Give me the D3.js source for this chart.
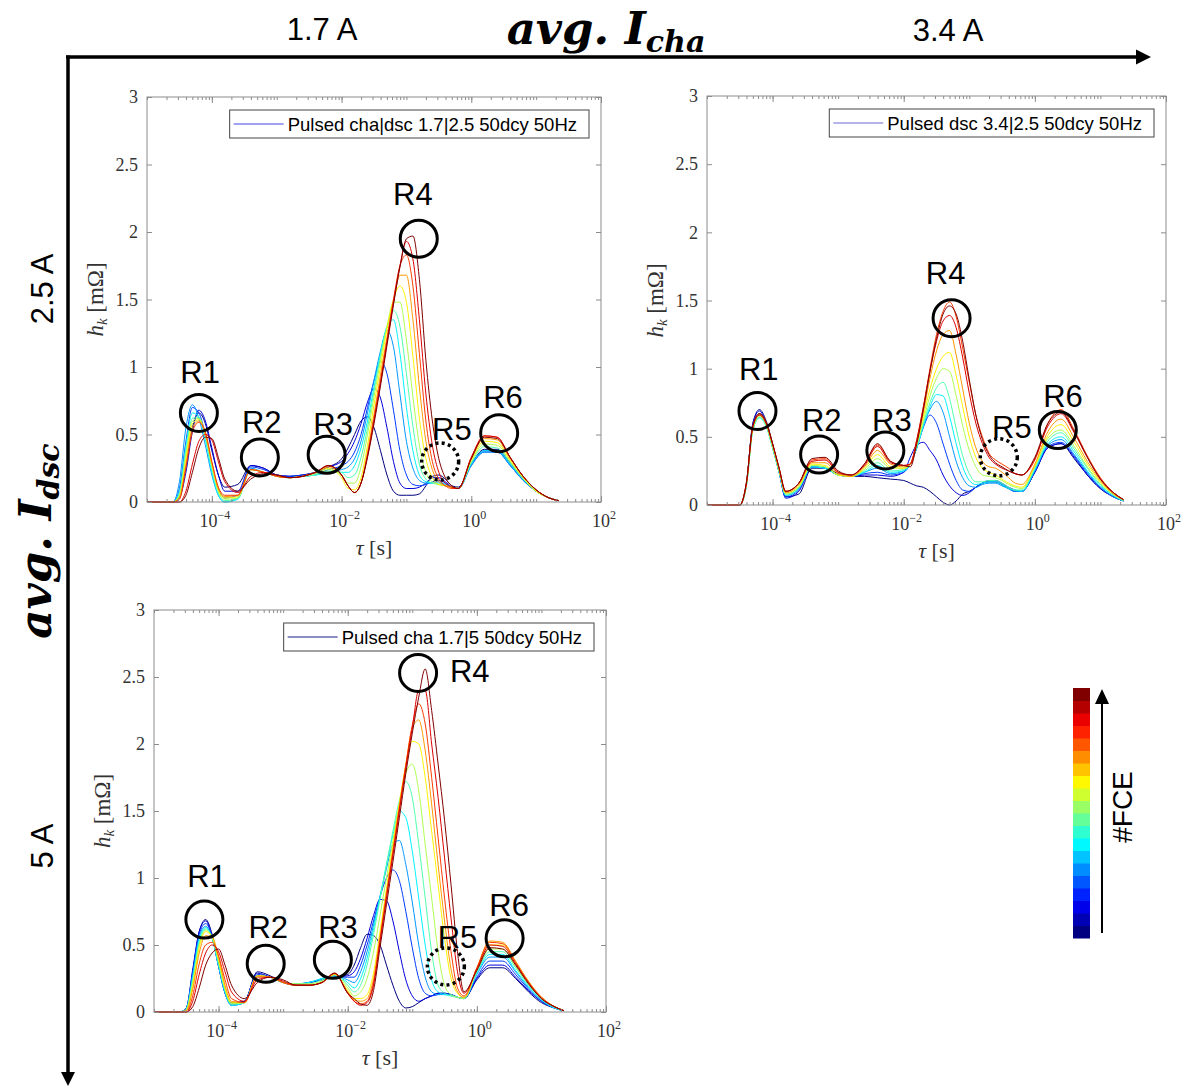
<!DOCTYPE html>
<html>
<head>
<meta charset="utf-8">
<script src="https://cdn.jsdelivr.net/npm/d3@7"></script>
<style>
  body { margin: 0; background: #fff; }
</style>
</head>
<body>
<div id="chart"></div>
<script>
// log10(tau) sample positions shared by every curve
const logTau = [-5,-4.6,-4.5,-4.4,-4.3,-4.2,-4.1,-4,-3.9,-3.8,-3.6,-3.4,-3.2,-3,-2.8,-2.6,-2.4,-2.2,-2,
  -1.9,-1.8,-1.7,-1.6,-1.5,-1.4,-1.3,-1.2,-1.1,-1,-0.9,-0.8,-0.7,-0.6,-0.5,-0.4,-0.3,-0.2,
  0,0.2,0.4,0.6,0.8,1,1.2,1.35];

// h_k [mOhm], first cycle (blue) to last cycle (dark red)
const p1Curves = [
  [0,0,0.04,0.25,0.55,0.66,0.58,0.38,0.2,0.11,0.13, 0.27,0.25,0.2,0.19,0.2,0.22,0.26,0.32, 0.4,0.5,0.6,0.63,0.55,0.38,0.2,0.08,0.05,0.05,0.05,0.06,0.12,0.19,0.2,0.17,0.12,0.11, 0.28,0.39,0.39,0.29,0.17,0.08,0.03,0.01],
  [0,0,0.03,0.22,0.52,0.68,0.6,0.4,0.2,0.08,0.08, 0.27,0.25,0.2,0.19,0.2,0.22,0.26,0.3, 0.36,0.45,0.58,0.74,0.84,0.77,0.55,0.3,0.14,0.1,0.1,0.11,0.14,0.18,0.18,0.15,0.11,0.1, 0.28,0.38,0.38,0.28,0.17,0.08,0.03,0.01],
  [0,0,0.1,0.45,0.7,0.66,0.5,0.28,0.1,0.03,0.05, 0.26,0.24,0.2,0.19,0.2,0.21,0.24,0.27, 0.3,0.37,0.5,0.7,0.9,1.04,0.95,0.68,0.38,0.2,0.13,0.12,0.13,0.15,0.16,0.14,0.11,0.1, 0.27,0.37,0.37,0.27,0.16,0.08,0.03,0.01],
  [0,0,0.15,0.55,0.72,0.62,0.42,0.2,0.05,0,0.03, 0.25,0.22,0.19,0.18,0.19,0.2,0.22,0.24, 0.26,0.32,0.45,0.66,0.9,1.12,1.27,1.15,0.8,0.45,0.25,0.16,0.14,0.14,0.15,0.13,0.11,0.1, 0.27,0.37,0.37,0.27,0.16,0.08,0.03,0.01],
  [0,0,0.08,0.42,0.66,0.63,0.46,0.22,0.05,0,0.02, 0.24,0.22,0.19,0.18,0.19,0.2,0.22,0.22, 0.22,0.27,0.4,0.6,0.85,1.1,1.3,1.35,1.1,0.7,0.38,0.2,0.15,0.14,0.14,0.13,0.11,0.1, 0.28,0.38,0.38,0.28,0.17,0.08,0.03,0.01],
  [0,0,0.06,0.38,0.62,0.63,0.48,0.25,0.07,0.01,0.03, 0.24,0.22,0.19,0.18,0.19,0.2,0.23,0.22, 0.18,0.2,0.33,0.55,0.82,1.08,1.3,1.42,1.3,0.95,0.56,0.28,0.17,0.14,0.13,0.12,0.11,0.1, 0.29,0.41,0.4,0.29,0.17,0.08,0.03,0.01],
  [0,0,0.05,0.35,0.6,0.62,0.5,0.27,0.08,0.02,0.03, 0.24,0.22,0.19,0.18,0.19,0.21,0.24,0.2, 0.14,0.14,0.26,0.5,0.78,1.05,1.3,1.48,1.48,1.2,0.78,0.42,0.22,0.15,0.13,0.12,0.11,0.1, 0.3,0.43,0.42,0.3,0.18,0.08,0.03,0.01],
  [0,0,0.04,0.32,0.58,0.61,0.5,0.28,0.09,0.03,0.04, 0.24,0.22,0.19,0.18,0.19,0.22,0.25,0.18, 0.1,0.09,0.18,0.42,0.72,1,1.28,1.5,1.6,1.48,1.08,0.62,0.32,0.18,0.13,0.12,0.11,0.1, 0.31,0.45,0.44,0.31,0.18,0.08,0.03,0.01],
  [0,0,0.03,0.28,0.55,0.6,0.5,0.29,0.1,0.04,0.05, 0.24,0.22,0.19,0.18,0.19,0.22,0.26,0.2, 0.12,0.07,0.14,0.37,0.65,0.94,1.22,1.48,1.68,1.68,1.35,0.85,0.45,0.24,0.15,0.12,0.11,0.1, 0.32,0.47,0.46,0.32,0.19,0.09,0.03,0.01],
  [0,0,0.02,0.25,0.52,0.59,0.52,0.3,0.11,0.05,0.05, 0.24,0.22,0.19,0.18,0.19,0.22,0.27,0.2, 0.12,0.07,0.14,0.35,0.62,0.9,1.2,1.5,1.75,1.83,1.6,1.1,0.6,0.3,0.17,0.12,0.1,0.1, 0.33,0.49,0.48,0.33,0.19,0.09,0.03,0.01],
  [0,0,0,0.08,0.28,0.45,0.5,0.46,0.3,0.15,0.07, 0.19,0.22,0.2,0.18,0.19,0.22,0.27,0.2, 0.12,0.07,0.14,0.34,0.6,0.88,1.18,1.48,1.75,1.93,1.8,1.35,0.8,0.42,0.22,0.14,0.11,0.1, 0.33,0.49,0.48,0.33,0.19,0.09,0.03,0.01],
  [0,0,0,0.05,0.22,0.4,0.48,0.47,0.33,0.17,0.08, 0.17,0.21,0.2,0.18,0.19,0.22,0.27,0.2, 0.12,0.07,0.14,0.33,0.58,0.86,1.16,1.46,1.74,1.95,1.97,1.65,1.05,0.6,0.32,0.18,0.12,0.1, 0.32,0.48,0.47,0.33,0.19,0.09,0.03,0.01]
];

const p2Curves = [
  [0,0,0,0.15,0.6,0.7,0.62,0.45,0.25,0.06,0.08, 0.27,0.27,0.23,0.21,0.21,0.2,0.19,0.18, 0.16,0.14,0.13,0.1,0.06,0.02,0,0.03,0.08,0.1,0.13,0.16,0.17,0.17,0.15,0.12,0.1,0.1, 0.24,0.42,0.45,0.34,0.22,0.12,0.06,0.03],
  [0,0,0,0.15,0.6,0.69,0.6,0.43,0.24,0.05,0.1, 0.28,0.27,0.22,0.21,0.22,0.22,0.21,0.24, 0.35,0.44,0.46,0.4,0.33,0.22,0.14,0.09,0.07,0.09,0.13,0.16,0.18,0.18,0.16,0.13,0.11,0.1, 0.24,0.42,0.45,0.35,0.22,0.12,0.06,0.03],
  [0,0,0,0.15,0.58,0.67,0.6,0.43,0.24,0.06,0.11, 0.28,0.27,0.22,0.21,0.23,0.24,0.22,0.24, 0.3,0.42,0.57,0.66,0.6,0.45,0.3,0.18,0.11,0.1,0.13,0.16,0.17,0.17,0.15,0.12,0.1,0.1, 0.25,0.43,0.46,0.36,0.23,0.13,0.06,0.03],
  [0,0,0,0.14,0.57,0.66,0.59,0.42,0.24,0.07,0.12, 0.28,0.27,0.22,0.21,0.24,0.27,0.23,0.25, 0.3,0.42,0.58,0.7,0.76,0.68,0.5,0.32,0.2,0.14,0.13,0.15,0.16,0.16,0.14,0.12,0.1,0.1, 0.25,0.44,0.48,0.37,0.24,0.13,0.06,0.03],
  [0,0,0,0.14,0.55,0.64,0.58,0.42,0.24,0.07,0.12, 0.28,0.27,0.22,0.21,0.24,0.29,0.24,0.25, 0.3,0.42,0.58,0.72,0.81,0.8,0.65,0.45,0.28,0.18,0.15,0.16,0.17,0.17,0.15,0.12,0.11,0.1, 0.26,0.45,0.5,0.39,0.25,0.14,0.07,0.03],
  [0,0,0,0.14,0.55,0.64,0.58,0.42,0.24,0.08,0.13, 0.29,0.28,0.22,0.21,0.25,0.31,0.25,0.26, 0.3,0.43,0.6,0.75,0.86,0.9,0.78,0.56,0.36,0.23,0.17,0.17,0.18,0.18,0.16,0.13,0.11,0.11, 0.27,0.47,0.53,0.41,0.27,0.15,0.07,0.03],
  [0,0,0,0.15,0.56,0.65,0.59,0.43,0.25,0.08,0.13, 0.29,0.28,0.22,0.21,0.26,0.34,0.27,0.27, 0.3,0.44,0.62,0.8,0.93,1,0.98,0.8,0.58,0.4,0.28,0.22,0.21,0.2,0.18,0.15,0.13,0.12, 0.28,0.49,0.55,0.43,0.28,0.16,0.08,0.04],
  [0,0,0,0.15,0.57,0.66,0.6,0.44,0.26,0.09,0.14, 0.3,0.29,0.22,0.21,0.27,0.37,0.28,0.27, 0.3,0.45,0.65,0.85,1,1.09,1.12,0.95,0.72,0.5,0.35,0.27,0.24,0.22,0.19,0.16,0.14,0.13, 0.29,0.51,0.59,0.46,0.3,0.17,0.08,0.04],
  [0,0,0,0.15,0.57,0.66,0.6,0.44,0.26,0.09,0.15, 0.31,0.31,0.23,0.21,0.28,0.4,0.3,0.28, 0.3,0.46,0.68,0.93,1.13,1.25,1.28,1.1,0.85,0.6,0.42,0.32,0.28,0.27,0.24,0.2,0.16,0.15, 0.3,0.54,0.63,0.49,0.32,0.18,0.08,0.04],
  [0,0,0,0.16,0.58,0.67,0.61,0.45,0.27,0.1,0.16, 0.33,0.34,0.24,0.22,0.3,0.44,0.32,0.29, 0.3,0.48,0.72,1,1.25,1.42,1.49,1.38,1.15,0.9,0.66,0.5,0.38,0.33,0.3,0.27,0.23,0.22, 0.33,0.6,0.7,0.55,0.36,0.2,0.09,0.04],
  [0,0,0,0.16,0.58,0.66,0.6,0.45,0.27,0.1,0.16, 0.32,0.33,0.24,0.22,0.29,0.43,0.31,0.29, 0.3,0.48,0.72,0.98,1.2,1.35,1.39,1.3,1.08,0.82,0.6,0.45,0.35,0.3,0.27,0.25,0.23,0.22, 0.34,0.58,0.67,0.53,0.35,0.19,0.09,0.04],
  [0,0,0,0.16,0.58,0.67,0.61,0.45,0.27,0.1,0.16, 0.34,0.35,0.25,0.22,0.3,0.45,0.32,0.29, 0.28,0.45,0.7,0.98,1.22,1.4,1.46,1.4,1.2,0.92,0.66,0.48,0.37,0.31,0.28,0.25,0.23,0.22, 0.35,0.6,0.68,0.54,0.35,0.19,0.09,0.04]
];

const p3Curves = [
  [0,0,0.02,0.3,0.6,0.69,0.58,0.36,0.15,0.07,0.08, 0.3,0.27,0.22,0.2,0.22,0.24,0.26,0.28, 0.35,0.48,0.58,0.57,0.5,0.35,0.2,0.08,0.03,0.04,0.07,0.1,0.12,0.14,0.14,0.13,0.11,0.1, 0.24,0.33,0.33,0.25,0.15,0.07,0.03,0.01],
  [0,0,0.03,0.32,0.6,0.68,0.56,0.34,0.14,0.06,0.08, 0.29,0.26,0.22,0.2,0.22,0.24,0.26,0.27, 0.3,0.4,0.55,0.72,0.84,0.83,0.68,0.45,0.24,0.12,0.08,0.1,0.12,0.14,0.14,0.13,0.11,0.1, 0.25,0.35,0.35,0.26,0.16,0.08,0.03,0.01],
  [0,0,0.03,0.3,0.58,0.66,0.56,0.34,0.14,0.05,0.07, 0.28,0.26,0.22,0.21,0.22,0.24,0.26,0.26, 0.26,0.35,0.5,0.68,0.86,1,1.06,0.98,0.75,0.48,0.25,0.14,0.12,0.13,0.14,0.13,0.11,0.1, 0.26,0.38,0.38,0.28,0.17,0.08,0.03,0.01],
  [0,0,0.03,0.28,0.56,0.64,0.55,0.34,0.14,0.05,0.07, 0.27,0.26,0.22,0.21,0.22,0.25,0.27,0.24, 0.22,0.3,0.45,0.65,0.86,1.07,1.25,1.28,1.1,0.82,0.5,0.26,0.15,0.13,0.13,0.13,0.11,0.1, 0.28,0.41,0.41,0.3,0.18,0.09,0.03,0.01],
  [0,0,0.02,0.26,0.54,0.63,0.55,0.35,0.15,0.05,0.07, 0.27,0.26,0.22,0.21,0.22,0.25,0.27,0.22, 0.18,0.25,0.4,0.62,0.86,1.1,1.32,1.5,1.45,1.2,0.85,0.5,0.24,0.15,0.13,0.12,0.11,0.1, 0.29,0.43,0.43,0.31,0.19,0.09,0.03,0.01],
  [0,0,0.02,0.24,0.52,0.62,0.55,0.36,0.16,0.06,0.07, 0.27,0.26,0.22,0.21,0.21,0.24,0.28,0.2, 0.15,0.2,0.35,0.58,0.84,1.1,1.35,1.58,1.72,1.6,1.25,0.85,0.45,0.2,0.14,0.12,0.11,0.1, 0.3,0.45,0.45,0.33,0.2,0.1,0.04,0.01],
  [0,0,0.02,0.22,0.5,0.61,0.56,0.38,0.17,0.06,0.07, 0.27,0.26,0.22,0.21,0.21,0.23,0.28,0.18, 0.12,0.15,0.25,0.45,0.72,1,1.28,1.55,1.78,1.85,1.65,1.25,0.85,0.45,0.2,0.13,0.11,0.1, 0.31,0.47,0.47,0.34,0.21,0.1,0.04,0.01],
  [0,0,0.01,0.2,0.48,0.6,0.56,0.39,0.18,0.07,0.07, 0.27,0.26,0.22,0.2,0.2,0.22,0.28,0.16, 0.1,0.1,0.13,0.29,0.6,0.92,1.24,1.56,1.84,2.02,2,1.75,1.35,0.95,0.55,0.25,0.14,0.11, 0.32,0.5,0.5,0.36,0.22,0.11,0.04,0.01],
  [0,0,0.01,0.17,0.44,0.57,0.56,0.41,0.2,0.08,0.07, 0.27,0.26,0.22,0.2,0.2,0.22,0.28,0.15, 0.09,0.08,0.1,0.25,0.56,0.89,1.21,1.54,1.85,2.12,2.18,1.95,1.55,1.1,0.68,0.32,0.15,0.11, 0.33,0.53,0.52,0.38,0.23,0.11,0.04,0.01],
  [0,0,0,0.12,0.36,0.5,0.52,0.42,0.24,0.1,0.07, 0.26,0.26,0.22,0.2,0.2,0.22,0.29,0.14, 0.08,0.06,0.08,0.22,0.54,0.87,1.19,1.52,1.84,2.14,2.3,2.15,1.75,1.3,0.85,0.45,0.18,0.12, 0.33,0.52,0.51,0.37,0.22,0.11,0.04,0.01],
  [0,0,0,0.08,0.28,0.44,0.5,0.45,0.3,0.15,0.08, 0.24,0.26,0.23,0.2,0.2,0.22,0.29,0.14, 0.08,0.05,0.07,0.2,0.52,0.85,1.17,1.5,1.82,2.12,2.4,2.4,2,1.6,1.15,0.7,0.3,0.14, 0.32,0.5,0.49,0.36,0.22,0.1,0.04,0.01],
  [0,0,0,0.04,0.18,0.35,0.44,0.47,0.35,0.2,0.1, 0.22,0.26,0.24,0.2,0.2,0.22,0.29,0.14, 0.1,0.06,0.05,0.16,0.48,0.8,1.12,1.45,1.78,2.08,2.35,2.56,2.25,1.85,1.43,0.95,0.45,0.15, 0.31,0.48,0.47,0.35,0.21,0.1,0.04,0.01]
];

const p1Legend = "Pulsed cha|dsc 1.7|2.5 50dcy 50Hz";
const p2Legend = "Pulsed dsc 3.4|2.5 50dcy 50Hz";
const p3Legend = "Pulsed cha 1.7|5 50dcy 50Hz";

// region annotations: circle centre (log tau, h) and label baseline (log tau, h)
const p1Regions = [
  { name: "R1", ct: -4.2, ch: 0.66, lt: -4.18, lh: 0.88 },
  { name: "R2", ct: -3.26, ch: 0.33, lt: -3.23, lh: 0.51 },
  { name: "R3", ct: -2.23, ch: 0.35, lt: -2.13, lh: 0.5 },
  { name: "R4", ct: -0.81, ch: 1.95, lt: -0.9, lh: 2.2 },
  { name: "R5", ct: -0.48, ch: 0.3, lt: -0.3, lh: 0.46, dotted: true },
  { name: "R6", ct: 0.43, ch: 0.51, lt: 0.49, lh: 0.7 }
];
const p2Regions = [
  { name: "R1", ct: -4.23, ch: 0.69, lt: -4.21, lh: 0.92 },
  { name: "R2", ct: -3.29, ch: 0.37, lt: -3.25, lh: 0.54 },
  { name: "R3", ct: -2.28, ch: 0.4, lt: -2.18, lh: 0.54 },
  { name: "R4", ct: -1.27, ch: 1.37, lt: -1.36, lh: 1.62 },
  { name: "R5", ct: -0.55, ch: 0.35, lt: -0.35, lh: 0.49, dotted: true },
  { name: "R6", ct: 0.35, ch: 0.55, lt: 0.43, lh: 0.72 }
];
const p3Regions = [
  { name: "R1", ct: -4.22, ch: 0.69, lt: -4.18, lh: 0.93 },
  { name: "R2", ct: -3.27, ch: 0.36, lt: -3.23, lh: 0.55 },
  { name: "R3", ct: -2.23, ch: 0.39, lt: -2.15, lh: 0.55 },
  { name: "R4", ct: -0.91, ch: 2.53, lt: -0.11, lh: 2.46 },
  { name: "R5", ct: -0.48, ch: 0.34, lt: -0.3, lh: 0.48, dotted: true },
  { name: "R6", ct: 0.43, ch: 0.55, lt: 0.5, lh: 0.72 }
];

const yTicks = [0, 0.5, 1, 1.5, 2, 2.5, 3];
const xLabelExp = [-4, -2, 0, 2];
const colorSteps = 20;

const W = 1185, H = 1088;
const sans = "Arial, 'Liberation Sans', sans-serif";
const serif = "'Liberation Serif', 'DejaVu Serif', serif";

function jet(t) {
  const c = v => Math.max(0, Math.min(1, v));
  return d3.rgb(255 * c(1.5 - Math.abs(4 * t - 3)),
                255 * c(1.5 - Math.abs(4 * t - 2)),
                255 * c(1.5 - Math.abs(4 * t - 1))).toString();
}

const svg = d3.select("#chart").append("svg")
  .attr("width", W).attr("height", H)
  .style("font-family", sans);

function drawPanel(id, curves, legendText, legendColor, regions, box) {
  const { left, right, top, bottom } = box;
  const x = d3.scaleLog().domain([1e-5, 1e2]).range([left, right]);
  const y = d3.scaleLinear().domain([0, 3]).range([bottom, top]);
  const g = svg.append("g");

  g.append("clipPath").attr("id", id)
    .append("rect").attr("x", left).attr("y", top - 1)
    .attr("width", right - left).attr("height", bottom - top + 2);

  const line = d3.line()
    .x((d, i) => x(Math.pow(10, logTau[i])))
    .y(d => y(d))
    .curve(d3.curveMonotoneX);

  g.append("g").attr("clip-path", `url(#${id})`)
    .selectAll("path")
    .data(curves)
    .join("path")
    .attr("d", line)
    .attr("fill", "none")
    .attr("stroke", (d, i) => jet(i / (curves.length - 1)))
    .attr("stroke-width", 1);

  // axes box
  g.append("rect")
    .attr("x", left).attr("y", top)
    .attr("width", right - left).attr("height", bottom - top)
    .attr("fill", "none").attr("stroke", "#8c8c8c").attr("stroke-width", 1);

  // y ticks
  const yl = g.append("g").attr("transform", `translate(${left},0)`)
    .call(d3.axisLeft(y).tickValues(yTicks).tickSize(-5).tickPadding(9).tickFormat(d => d));
  yl.select(".domain").remove();
  yl.selectAll(".tick line").attr("stroke", "#8c8c8c");
  yl.selectAll(".tick text").style("font-family", serif).style("font-size", "18px").attr("fill", "#333");
  const yr = g.append("g").attr("transform", `translate(${right},0)`)
    .call(d3.axisRight(y).tickValues(yTicks).tickSize(-5).tickFormat(""));
  yr.select(".domain").remove();
  yr.selectAll(".tick line").attr("stroke", "#8c8c8c");

  // x ticks (log, minor + major) on bottom and top
  const minor = [];
  for (let e = -5; e < 2; e++) for (let k = 1; k < 10; k++) minor.push(k * Math.pow(10, e));
  const major = xLabelExp.map(e => Math.pow(10, e));
  [[d3.axisBottom, bottom], [d3.axisTop, top]].forEach(([ax, pos]) => {
    const mi = g.append("g").attr("transform", `translate(0,${pos})`)
      .call(ax(x).tickValues(minor).tickSize(-3).tickFormat(""));
    mi.select(".domain").remove();
    mi.selectAll(".tick line").attr("stroke", "#8c8c8c");
    const ma = g.append("g").attr("transform", `translate(0,${pos})`)
      .call(ax(x).tickValues(major).tickSize(-6).tickFormat(""));
    ma.select(".domain").remove();
    ma.selectAll(".tick line").attr("stroke", "#8c8c8c");
  });

  const xt = g.append("g").selectAll("text").data(xLabelExp).join("text")
    .attr("x", e => x(Math.pow(10, e)) + 3)
    .attr("y", bottom + 25)
    .attr("text-anchor", "middle")
    .style("font-family", serif).style("font-size", "18px").attr("fill", "#333");
  xt.append("tspan").text("10");
  xt.append("tspan").attr("dy", -8).style("font-size", "12px")
    .text(e => e < 0 ? "\u2212" + Math.abs(e) : String(e));

  // axis labels
  const xlab = g.append("text")
    .attr("x", (left + right) / 2).attr("y", bottom + 53)
    .attr("text-anchor", "middle")
    .style("font-family", serif).style("font-size", "22px").attr("fill", "#333");
  xlab.append("tspan").style("font-style", "italic").text("\u03c4");
  xlab.append("tspan").text(" [s]");

  const ylab = g.append("text")
    .attr("transform", `translate(${left - 44},${(top + bottom) / 2}) rotate(-90)`)
    .attr("text-anchor", "middle")
    .style("font-family", serif).style("font-size", "23px").attr("fill", "#333");
  ylab.append("tspan").style("font-style", "italic").text("h");
  ylab.append("tspan").style("font-style", "italic").style("font-size", "15px").attr("dy", 4).text("k");
  ylab.append("tspan").attr("dy", -4).text(" [m\u03a9]");

  // legend
  const lg = g.append("g");
  const lt = lg.append("text")
    .attr("y", 20.5)
    .style("font-size", "18.5px").attr("fill", "#000")
    .text(legendText);
  const tw = lt.node().getComputedTextLength();
  const lw = 58 + tw + 12;
  lg.attr("transform", `translate(${right - 12 - lw},${top + 13})`);
  lg.insert("rect", "text").attr("width", lw).attr("height", 28)
    .attr("fill", "#fff").attr("stroke", "#444").attr("stroke-width", 1);
  lg.append("line").attr("x1", 4).attr("x2", 54).attr("y1", 14).attr("y2", 14)
    .attr("stroke", legendColor).attr("stroke-width", 1.2);
  lt.attr("x", 58);

  // region annotations
  const ann = g.append("g");
  ann.selectAll("circle").data(regions).join("circle")
    .attr("cx", d => x(Math.pow(10, d.ct)))
    .attr("cy", d => y(d.ch))
    .attr("r", 18.5)
    .attr("fill", "none").attr("stroke", "#000")
    .attr("stroke-width", d => d.dotted ? 3.5 : 3)
    .attr("stroke-dasharray", d => d.dotted ? "3 3.3" : null);
  ann.selectAll("text").data(regions).join("text")
    .attr("x", d => x(Math.pow(10, d.lt)))
    .attr("y", d => y(d.lh))
    .attr("text-anchor", "middle")
    .style("font-size", "31px").attr("fill", "#000")
    .text(d => d.name);
}

drawPanel("c1", p1Curves, p1Legend, "#4646e6", p1Regions, { left: 147, right: 601, top: 97, bottom: 502 });
drawPanel("c2", p2Curves, p2Legend, "#6a6ad8", p2Regions, { left: 707, right: 1166, top: 96, bottom: 505 });
drawPanel("c3", p3Curves, p3Legend, "#1c1c8c", p3Regions, { left: 154, right: 606, top: 610, bottom: 1012 });

// frame arrows
const arrows = svg.append("g");
arrows.append("line").attr("x1", 66).attr("x2", 1138).attr("y1", 57).attr("y2", 57)
  .attr("stroke", "#000").attr("stroke-width", 3.5);
arrows.append("path").attr("d", "M1136,49.5 L1151,57 L1136,64.5 Z").attr("fill", "#000");
arrows.append("line").attr("x1", 68).attr("x2", 68).attr("y1", 55.5).attr("y2", 1074)
  .attr("stroke", "#000").attr("stroke-width", 3.5);
arrows.append("path").attr("d", "M61,1072 L68,1086 L75,1072 Z").attr("fill", "#000");

// axis titles
svg.append("text").attr("x", 322).attr("y", 40).attr("text-anchor", "middle")
  .style("font-size", "31px").text("1.7 A");
svg.append("text").attr("x", 948).attr("y", 41).attr("text-anchor", "middle")
  .style("font-size", "31px").text("3.4 A");
const tTop = svg.append("text").attr("x", 606).attr("y", 44).attr("text-anchor", "middle")
  .style("font-family", "'DejaVu Serif', serif").style("font-weight", "bold").style("font-style", "italic")
  .style("font-size", "45px");
tTop.append("tspan").text("avg. I");
tTop.append("tspan").attr("dy", 8).style("font-size", "30px").text("cha");

const tLeft = svg.append("text").attr("transform", "translate(51,541) rotate(-90)").attr("text-anchor", "middle")
  .style("font-family", "'DejaVu Serif', serif").style("font-weight", "bold").style("font-style", "italic")
  .style("font-size", "45px");
tLeft.append("tspan").text("avg. I");
tLeft.append("tspan").attr("dy", 8).style("font-size", "30px").text("dsc");

svg.append("text").attr("transform", "translate(53,289) rotate(-90)").attr("text-anchor", "middle")
  .style("font-size", "31px").text("2.5 A");
svg.append("text").attr("transform", "translate(53,846) rotate(-90)").attr("text-anchor", "middle")
  .style("font-size", "31px").text("5 A");

// cycle colour bar
const cb = svg.append("g");
const cbY = d3.scaleLinear().domain([0, colorSteps]).range([938, 688]);
cb.selectAll("rect").data(d3.range(colorSteps)).join("rect")
  .attr("x", 1073).attr("width", 17)
  .attr("y", i => cbY(i + 1)).attr("height", i => cbY(i) - cbY(i + 1) + 0.5)
  .attr("fill", i => jet(i / (colorSteps - 1)));
cb.append("line").attr("x1", 1102).attr("x2", 1102).attr("y1", 933).attr("y2", 702)
  .attr("stroke", "#000").attr("stroke-width", 2);
cb.append("path").attr("d", "M1095,704 L1102,689 L1109,704 Z").attr("fill", "#000");
cb.append("text").attr("transform", "translate(1132,807) rotate(-90)").attr("text-anchor", "middle")
  .style("font-size", "28px").text("#FCE");
</script>
</body>
</html>
